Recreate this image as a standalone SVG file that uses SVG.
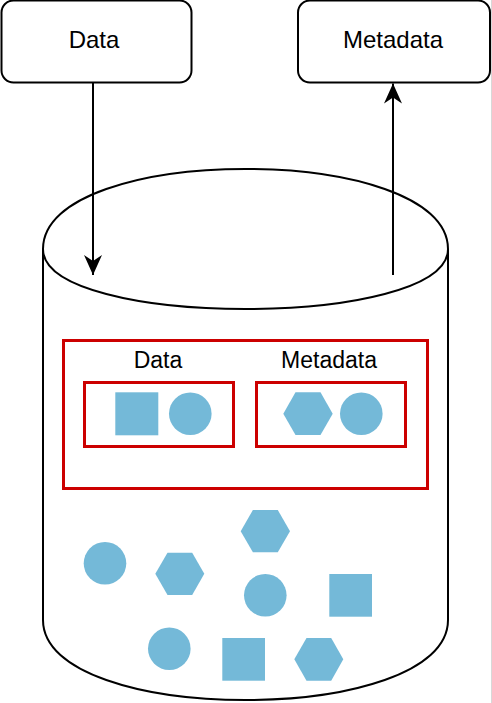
<svg xmlns="http://www.w3.org/2000/svg" width="492" height="703" viewBox="0 0 492 703">
<style>
.box{fill:#fff;stroke:#000;stroke-width:2}
.line{fill:none;stroke:#000;stroke-width:2}
.red{fill:none;stroke:#cc0000;stroke-width:3}
.blue{fill:#74b9d8;stroke:none}
.lbl{font-family:"Liberation Sans",Arial,sans-serif;font-size:23px;fill:#000;text-anchor:middle}
</style>
<defs>
<marker id="arr" viewBox="0 0 20 20" refX="20" refY="10" markerWidth="20" markerHeight="20" markerUnits="userSpaceOnUse" orient="auto">
<path d="M20,10 L0,1 L6,10 L0,19 Z" fill="#000"/>
</marker>
</defs>
<rect x="0" y="0" width="492" height="703" fill="#fff"/>
<line x1="491.5" y1="0" x2="491.5" y2="703" stroke="#d8d8d8" stroke-width="1"/>
<g id="cylinder">
<path class="line" d="M43,249 C43,142.3 448,142.3 448,249 L448,620 C448,726.7 43,726.7 43,620 Z" fill="#fff"/>
<path class="line" d="M43,249 C43,329 448,329 448,249"/>
</g>
<g id="data-source">
<rect class="box" x="1.5" y="0.5" width="190" height="82" rx="12"/>
<text class="lbl" x="94" y="47.5" font-size="24" style="font-size:24px">Data</text>
</g>
<g id="metadata-target">
<rect class="box" x="298" y="0.5" width="192" height="82" rx="12"/>
<text class="lbl" x="393" y="48" style="font-size:24px">Metadata</text>
</g>
<g id="connectors">
<line class="line" x1="93" y1="83" x2="93" y2="275" marker-end="url(#arr)"/>
<line class="line" x1="393" y1="275" x2="393" y2="83.5" marker-end="url(#arr)"/>
</g>
<g id="container">
<rect class="red" x="63.5" y="340.5" width="364" height="148"/>
<text class="lbl" x="158" y="368">Data</text>
<text class="lbl" x="329" y="368">Metadata</text>
</g>
<g id="data-group">
<rect class="red" x="84.5" y="382.5" width="149" height="64"/>
<rect class="blue" x="115.3" y="392.3" width="43" height="43"/>
<circle class="blue" cx="190.3" cy="413.7" r="21.3"/>
</g>
<g id="metadata-group">
<rect class="red" x="256.5" y="382.5" width="149" height="64"/>
<polygon class="blue" points="283.3,413.7 295.5,392.3 320.5,392.3 332.7,413.7 320.5,435 295.5,435"/>
<circle class="blue" cx="361.3" cy="413.7" r="21.3"/>
</g>
<g id="loose-shapes">
<polygon class="blue" points="240.7,531.2 252.9,510 277.8,510 290,531.2 277.8,552.3 252.9,552.3"/>
<circle class="blue" cx="105" cy="563.3" r="21.3"/>
<polygon class="blue" points="155.3,573.8 167.5,552.7 192.2,552.7 204.3,573.8 192.2,595 167.5,595"/>
<circle class="blue" cx="265.3" cy="595.3" r="21.3"/>
<rect class="blue" x="329.3" y="574" width="42.7" height="42.7"/>
<circle class="blue" cx="169.3" cy="648.7" r="21.3"/>
<rect class="blue" x="222.3" y="638" width="42.7" height="42.7"/>
<polygon class="blue" points="294.3,659.3 306.5,638 331.2,638 343.3,659.3 331.2,680.7 306.5,680.7"/>
</g>
</svg>
